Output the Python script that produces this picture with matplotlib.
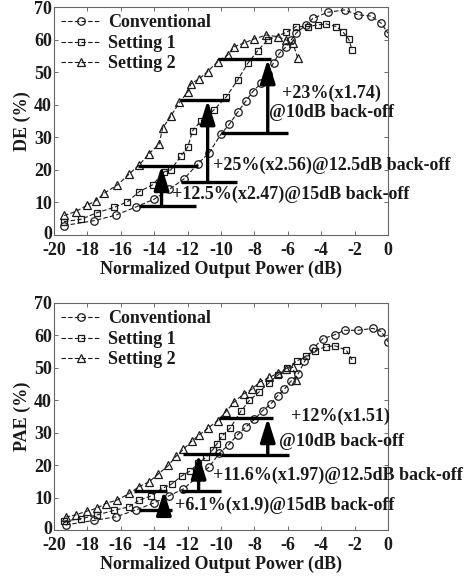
import numpy as np
import matplotlib
matplotlib.use('Agg')
import matplotlib.pyplot as plt
from matplotlib.lines import Line2D
from matplotlib.legend_handler import HandlerLine2D
from matplotlib.transforms import ScaledTranslation

# ---- DE (top) ----
de_conv_x = [-19.4, -17.6, -16.3, -15.1, -14.0, -13.1, -12.2, -11.4, -10.7, -10.0, -9.5, -9.0,
             -8.5, -8.1, -7.6, -7.2, -6.85, -6.5, -6.1, -5.8, -5.5, -4.9, -4.5, -3.6, -2.6,
             -1.8, -1.0, -0.4, 0.0]
de_conv_y = [2.9, 4.4, 6.1, 8.6, 11.0, 14.0, 17.3, 21.8, 25.3, 31.0, 34.0, 37.7,
             41.2, 44.0, 46.6, 49.5, 52.9, 55.8, 57.8, 59.9, 62.0, 64.5, 66.5, 68.4, 69.1,
             67.6, 67.2, 65.0, 61.9]
de_s1_x = [-19.4, -18.4, -17.4, -16.4, -15.6, -14.9, -14.1, -13.4, -13.0, -12.4, -12.0, -11.7,
           -11.2, -10.4, -9.7, -9.0, -8.4, -7.8, -7.2, -6.1, -5.5, -4.8, -4.2, -3.7, -3.1,
           -2.7, -2.35, -2.15]
de_s1_y = [4.1, 4.8, 6.9, 8.5, 10.2, 13.3, 15.4, 19.4, 20.0, 24.3, 26.9, 32.0,
           35.0, 38.5, 42.3, 47.6, 52.7, 56.6, 59.9, 62.2, 64.0, 64.0, 64.5, 64.8, 64.0,
           62.4, 60.1, 56.8]
de_s2_x = [-19.4, -18.7, -18.0, -17.5, -17.0, -16.2, -15.5, -14.9, -14.3, -13.7, -13.5, -13.0,
           -12.5, -12.0, -11.8, -11.3, -10.8, -10.2, -9.6, -9.2, -8.6, -8.0, -7.3, -6.6,
           -6.1, -5.7, -5.4]
de_s2_y = [6.0, 7.2, 9.2, 10.5, 12.8, 15.4, 18.7, 21.5, 25.0, 28.0, 32.8, 36.5,
           40.7, 43.8, 46.4, 48.0, 50.2, 53.2, 55.3, 57.8, 59.0, 60.2, 61.4, 60.9,
           59.9, 58.9, 54.3]

# ---- PAE (bottom) ----
pae_conv_x = [-19.3, -17.6, -16.3, -15.1, -14.0, -13.1, -12.25, -11.4, -10.7, -10.1, -9.55, -9.0,
              -8.5, -8.0, -7.5, -7.0, -6.6, -6.2, -5.8, -5.4, -5.0, -4.5, -3.9, -3.2, -2.6,
              -1.8, -0.9, -0.4, 0.0]
pae_conv_y = [1.7, 3.1, 4.2, 6.3, 8.5, 10.7, 12.8, 16.5, 19.6, 23.8, 26.3, 29.5,
              31.9, 34.2, 36.9, 39.0, 41.5, 43.5, 46.0, 48.0, 52.0, 56.0, 59.0, 60.2, 61.6,
              61.6, 62.2, 61.2, 58.1]
pae_s1_x = [-19.4, -18.4, -17.4, -16.4, -15.5, -14.9, -14.2, -13.5, -12.95, -12.35, -11.85, -11.35,
            -10.9, -10.5, -10.25, -9.95, -9.45, -8.8, -8.3, -7.7, -7.15, -6.6, -6.05, -5.45,
            -4.9, -4.4, -3.7, -3.15, -2.5, -2.15]
pae_s1_y = [2.9, 3.6, 4.8, 6.2, 7.3, 9.3, 10.6, 13.0, 14.3, 16.8, 18.3, 20.7,
            22.5, 24.8, 26.6, 29.0, 31.5, 36.8, 40.0, 42.7, 45.3, 47.8, 49.9, 52.2,
            53.7, 55.3, 56.6, 56.8, 55.5, 52.5]
pae_s2_x = [-19.3, -18.7, -18.0, -17.45, -16.9, -16.2, -15.5, -14.9, -14.3, -13.75, -13.15, -12.7,
            -12.25, -11.75, -11.3, -10.75, -10.2, -9.7, -9.2, -8.65, -8.15, -7.65, -7.1, -6.6,
            -6.1, -5.7, -5.5]
pae_s2_y = [4.1, 4.8, 6.0, 6.8, 8.3, 9.4, 11.4, 13.5, 15.0, 17.4, 20.0, 22.8,
            25.0, 27.5, 29.4, 31.6, 33.8, 36.6, 39.6, 42.0, 43.5, 45.8, 47.1, 48.4,
            49.8, 50.2, 46.3]

labels = ['Conventional', 'Setting 1', 'Setting 2']
x_ticks = list(range(-20, 1, 2))
y_ticks = list(range(0, 71, 10))

# back-off annotations: (arrow x, bar low (x0, x1, y), bar high (x0, x1, y))
de_marks = [
    (-7.2, (-9.97, -6.0, 31.3), (-10.15, -7.0, 54.0)),
    (-10.8, (-12.37, -9.06, 16.3), (-12.45, -9.5, 41.4)),
    (-13.56, (-14.88, -11.47, 8.9), (-14.95, -11.4, 21.2)),
]
de_texts = [
    (-3.38, 43.6, '+23%(x1.74)', 'center'),
    (-3.38, 37.5, '@10dB back-off', 'center'),
    (-10.5, 21.5, '+25%(x2.56)@12.5dB back-off', 'left'),
    (-12.96, 12.6, '+12.5%(x2.47)@15dB back-off', 'left'),
]
pae_marks = [
    (-7.2, (-9.97, -5.9, 23.2), (-10.1, -6.9, 34.6)),
    (-11.34, (-12.37, -9.97, 12.2), (-12.3, -10.0, 23.4)),
    (-13.42, (-14.88, -12.96, 6.3), (-15.18, -13.26, 12.2)),
]
pae_texts = [
    (-2.84, 35.2, '+12%(x1.51)', 'center'),
    (-2.81, 27.5, '@10dB back-off', 'center'),
    (-10.5, 17.1, '+11.6%(x1.97)@12.5dB back-off', 'left'),
    (-12.78, 7.8, '+6.1%(x1.9)@15dB back-off', 'left'),
]

INK = '#1a1a1a'
plt.rcParams['font.family'] = ['Liberation Serif', 'DejaVu Serif']
plt.rcParams['font.weight'] = 'bold'
plt.rcParams['axes.unicode_minus'] = False


class PairHandler(HandlerLine2D):
    # line across the whole handle, two markers on it
    def get_xdata(self, legend, xdescent, ydescent, width, height, fontsize):
        xline = np.array([-xdescent, -xdescent + width])
        xmark = np.array([-xdescent + 0.25 * width, -xdescent + 0.92 * width])
        return xline, xmark


def draw_panel(fig, ax, series, marks, texts, ylabel):
    styles = [('o', 5.4), ('s', 4.8), ('^', 5.8)]
    for (xs, ys), lab, (m, ms) in zip(series, labels, styles):
        ax.plot(xs, ys, linestyle=(0, (4, 2)), lw=0.8, color=INK, marker=m, ms=ms,
                mfc='none', mec=INK, mew=0.9, label=lab)
    for ax_x, low, high in marks:
        ax.plot(low[:2], [low[2]] * 2, color='k', lw=2.4, solid_capstyle='butt')
        ax.plot(high[:2], [high[2]] * 2, color='k', lw=2.4, solid_capstyle='butt')
        ax.annotate('', xy=(ax_x, high[2]), xytext=(ax_x, low[2]),
                    arrowprops=dict(arrowstyle='-|>,head_length=0.8,head_width=0.25',
                                    mutation_scale=18, lw=2.4, color='k',
                                    shrinkA=0, shrinkB=0))
    for tx, ty, s, ha in texts:
        ax.text(tx, ty, s, ha=ha, va='center', fontsize=13, fontweight='bold', color=INK)
    ax.set_xlim(-20, 0)
    ax.set_ylim(0, 70)
    ax.set_xticks(x_ticks)
    ax.set_yticks(y_ticks)
    ax.tick_params(direction='in', length=3, width=0.6, top=True, right=True,
                   labelsize=13, colors='#555555', labelcolor=INK)
    ax.tick_params(axis='x', pad=5)
    ax.tick_params(axis='y', pad=1.5)
    for lbl in ax.get_xticklabels() + ax.get_yticklabels():
        lbl.set_fontweight('bold')
    # lift the "0" label a little so it clears the "-20" below it
    zero = ax.get_yticklabels()[0]
    zero.set_transform(zero.get_transform()
                       + ScaledTranslation(0, 3 / 100, fig.dpi_scale_trans))
    for sp in ax.spines.values():
        sp.set_color('#666666')
        sp.set_linewidth(0.8)
    ax.set_xlabel('Normalized Output Power (dB)', fontsize=13, fontweight='bold',
                  color=INK, labelpad=1)
    ax.set_ylabel(ylabel, fontsize=13, fontweight='bold', color=INK, labelpad=2)
    ax.legend(loc='upper left', frameon=False, fontsize=13, handlelength=2.2,
              handletextpad=0.4, labelspacing=0.2, borderaxespad=0.2,
              borderpad=0.2, labelcolor=INK,
              handler_map={Line2D: PairHandler()})


fig = plt.figure(figsize=(4.77, 5.79), dpi=100)
ax1 = fig.add_axes([0.1132, 0.5941, 0.7002, 0.3938])
ax2 = fig.add_axes([0.1132, 0.0838, 0.7002, 0.3929])

draw_panel(fig, ax1, [(de_conv_x, de_conv_y), (de_s1_x, de_s1_y), (de_s2_x, de_s2_y)],
           de_marks, de_texts, 'DE (%)')
draw_panel(fig, ax2, [(pae_conv_x, pae_conv_y), (pae_s1_x, pae_s1_y), (pae_s2_x, pae_s2_y)],
           pae_marks, pae_texts, 'PAE (%)')

fig.savefig('out.png', dpi=100)
